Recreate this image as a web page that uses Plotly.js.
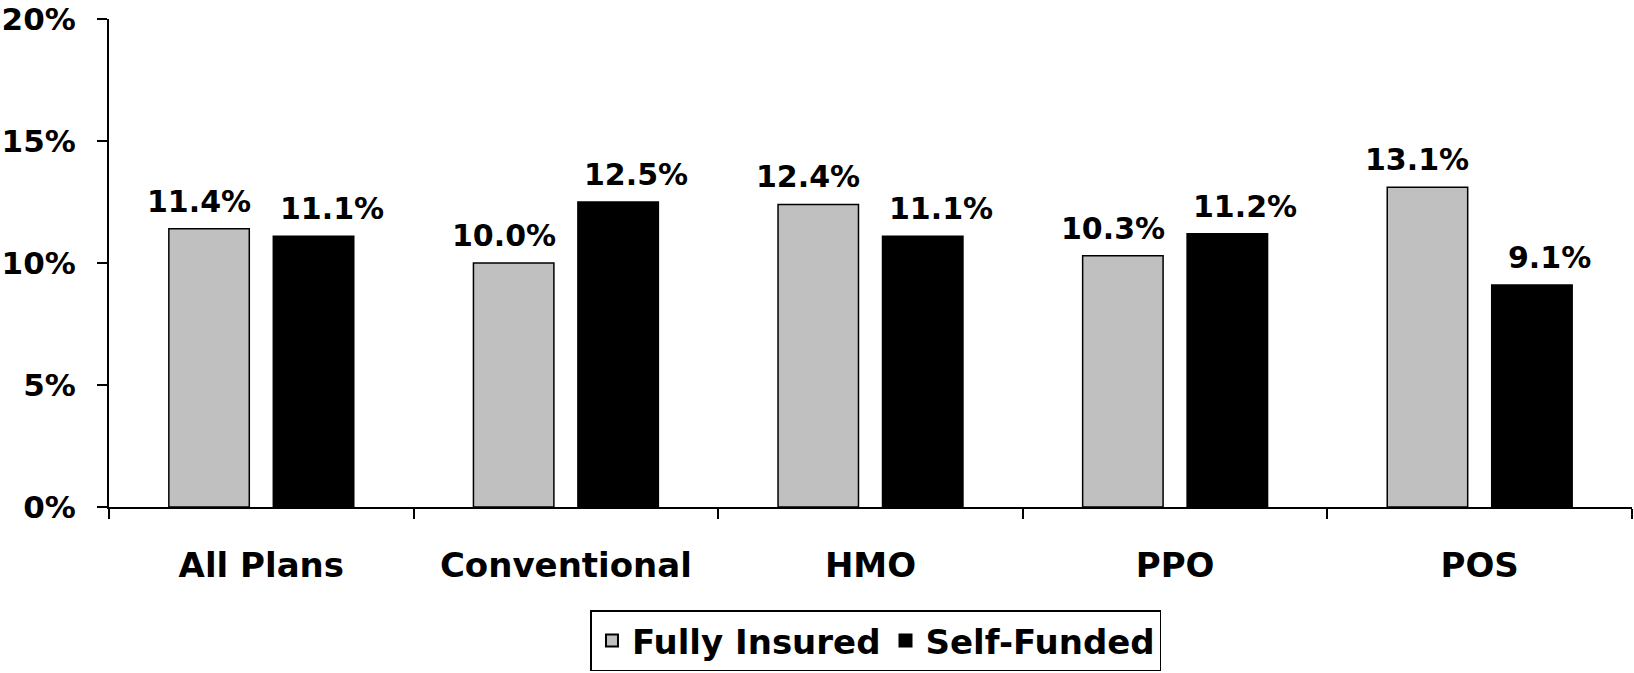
<!DOCTYPE html>
<html>
<head>
<meta charset="utf-8">
<script src="https://cdn.plot.ly/plotly-3.0.1.min.js"></script>
<style>html,body{margin:0;padding:0;background:#fff;}#chart{width:1634px;height:673px;}</style>
</head>
<body>
<div id="chart"></div>
<script>
const categories = ["All Plans", "Conventional", "HMO", "PPO", "POS"];
const fullyInsured = [11.4, 10.0, 12.4, 10.3, 13.1];
const selfFunded = [11.1, 12.5, 11.1, 11.2, 9.1];
const yTickValues = [0, 5, 10, 15, 20];
const yTickLabels = ["0%", "5%", "10%", "15%", "20%"];
const seriesNames = ["Fully Insured", "Self-Funded"];

const FONT = "DejaVu Sans, Verdana, sans-serif";
const W = 1634, H = 673;
const M = {l: 109, r: 2, t: 19, b: 164};
const BARGAP = 0.314;
const labelFont = {family: FONT, size: 30, color: "#000", weight: "bold"};

function barTrace(name, values, color) {
  return {
    type: "bar",
    name: name,
    x: categories,
    y: values,
    marker: {color: color, line: {color: "#000", width: 1.5}},
    hoverinfo: "x+y"
  };
}

const data = [
  barTrace(seriesNames[0], fullyInsured, "#C0C0C0"),
  barTrace(seriesNames[1], selfFunded, "#000000")
];

// value labels placed over each bar via the axes
const catPx = (W - M.l - M.r) / categories.length;
const barOffset = (1 - BARGAP) * catPx / 4;
const labelNudge = [-10, 18];
const annotations = [];
[fullyInsured, selfFunded].forEach((vals, s) => {
  vals.forEach((v, i) => {
    annotations.push({
      x: categories[i], y: v, xref: "x", yref: "y",
      text: v.toFixed(1) + "%",
      showarrow: false,
      xanchor: "center", yanchor: "bottom",
      xshift: (s === 0 ? -barOffset : barOffset) + labelNudge[s],
      yshift: 8,
      font: labelFont
    });
  });
});

const layout = {
  width: W,
  height: H,
  margin: M,
  paper_bgcolor: "#fff",
  plot_bgcolor: "#fff",
  barmode: "group",
  bargap: BARGAP,
  bargroupgap: 0.23,
  showlegend: true,
  annotations: annotations,
  legend: {
    orientation: "h",
    x: 0.5036,
    xanchor: "center",
    y: -0.212,
    yanchor: "top",
    bordercolor: "#000",
    borderwidth: 1.5,
    font: {family: FONT, size: 34, color: "#000", weight: "bold"},
    itemsizing: "constant"
  },
  xaxis: {
    type: "category",
    showline: true,
    linecolor: "#000",
    linewidth: 2,
    ticks: "outside",
    tickson: "boundaries",
    ticklen: 10,
    tickwidth: 2,
    tickcolor: "#000",
    ticklabelstandoff: 27,
    tickfont: {family: FONT, size: 34, color: "#000", weight: "bold"},
    showgrid: false,
    zeroline: false,
    fixedrange: true
  },
  yaxis: {
    range: [0, 20],
    tickvals: yTickValues,
    ticktext: yTickLabels,
    showline: true,
    linecolor: "#000",
    linewidth: 2,
    ticks: "outside",
    ticklen: 10,
    tickwidth: 2,
    tickcolor: "#000",
    ticklabelstandoff: 15,
    tickfont: {family: FONT, size: 31, color: "#000", weight: "bold"},
    showgrid: false,
    zeroline: false,
    fixedrange: true
  }
};

Plotly.newPlot("chart", data, layout, {displayModeBar: false, responsive: false});
</script>
</body>
</html>
